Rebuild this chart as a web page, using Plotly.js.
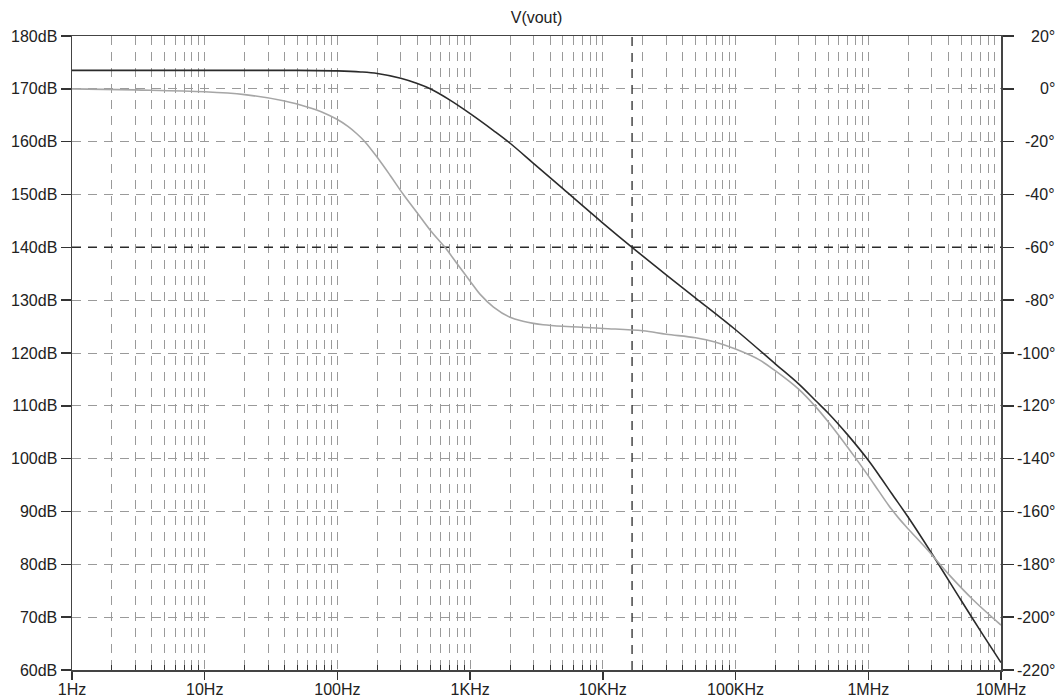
<!DOCTYPE html>
<html>
<head>
<meta charset="utf-8">
<script src="https://cdn.plot.ly/plotly-3.0.1.min.js"></script>
<style>html,body{margin:0;padding:0;background:#fff;}#chart{width:1061px;height:700px;}</style>
</head>
<body>
<div id="chart"></div>
<script>
// ---- data ----
const chartTitle = "V(vout)";
const freqMag = [1, 10, 50, 100, 150, 200, 300, 400, 500, 700, 1000, 1500, 2000, 3000, 5000, 10000, 16600, 30000, 50000, 100000, 200000, 300000, 400000, 500000, 700000, 1000000, 1250000, 1500000, 2000000, 3000000, 5000000, 7000000, 10000000];
const magDb   = [173.5, 173.5, 173.5, 173.4, 173.2, 172.9, 172.0, 171.0, 170.0, 167.9, 165.3, 162.1, 159.7, 155.9, 151.1, 144.6, 140.0, 134.8, 130.4, 124.4, 117.9, 114.1, 111.0, 108.6, 104.5, 99.7, 96.3, 93.4, 88.9, 82.1, 73.2, 67.4, 61.4];
const freqPhase = [1, 3, 10, 20, 40, 60, 80, 100, 120, 140, 161, 200, 250, 314, 400, 500, 646, 800, 1000, 1200, 1500, 2000, 2500, 3000, 3550, 5000, 10000, 20000, 30000, 50000, 70000, 100000, 150000, 200000, 300000, 400000, 500000, 600000, 800000, 1000000, 1200000, 1430000, 1700000, 2000000, 2800000, 4070000, 6100000, 10000000];
const phaseDeg  = [0, -0.4, -1.1, -2.2, -4.6, -7.0, -9.2, -11.6, -14.2, -17.0, -20.0, -26.0, -32.8, -40.0, -47.0, -53.5, -60.0, -66.3, -72.8, -78.0, -82.6, -86.5, -88.0, -88.8, -89.3, -89.9, -90.7, -91.6, -92.9, -94.2, -95.8, -98.5, -102.5, -106.8, -113.8, -120.3, -126.1, -131.2, -139.7, -146.5, -152.3, -157.8, -162.6, -166.6, -174.6, -184.0, -193.2, -203.0];
const freqTicks = [1, 10, 100, 1000, 10000, 100000, 1000000, 10000000];
const freqLabels = ["1Hz", "10Hz", "100Hz", "1KHz", "10KHz", "100KHz", "1MHz", "10MHz"];
const dbRange = [60, 180];
const degTicks = [20, 0, -20, -40, -60, -80, -100, -120, -140, -160, -180, -200, -220];
const cursorFreq = [16600];
const cursorDb = [140];

// ---- derived helpers ----
const minorTicks = [];
freqTicks.slice(0, -1).forEach(d => { for (let k = 2; k <= 9; k++) minorTicks.push(d * k); });
const degRange = [Math.min(...degTicks), Math.max(...degTicks)];
const FONT = "Liberation Sans, Arial, sans-serif";
const DASH = "9px,7px";

const traces = [
  { x: [cursorFreq[0], cursorFreq[0]], y: dbRange, mode: "lines", line: {color: "#2a2a2a", width: 1.3, dash: DASH}, hoverinfo: "skip", showlegend: false },
  { x: [freqTicks[0], freqTicks[freqTicks.length - 1]], y: [cursorDb[0], cursorDb[0]], mode: "lines", line: {color: "#2a2a2a", width: 1.5, dash: DASH}, hoverinfo: "skip", showlegend: false },
  { x: freqPhase, y: phaseDeg, yaxis: "y2", mode: "lines", line: {color: "#a6a6a6", width: 1.6, shape: "spline", smoothing: 1, simplify: false}, name: "phase", showlegend: false },
  { x: freqMag, y: magDb, mode: "lines", line: {color: "#2b2b2b", width: 1.6, shape: "spline", smoothing: 1, simplify: false}, name: "V(vout)", showlegend: false }
];

const annotations = degTicks.map(v => ({
  xref: "paper", x: 1, xshift: 55, xanchor: "right",
  yref: "y2", y: v, yanchor: "middle",
  text: v + "°", showarrow: false, borderpad: 0,
  font: {family: FONT, size: 16, color: "#222"}
}));

const layout = {
  width: 1061, height: 700,
  margin: {l: 72, r: 60, t: 36, b: 30, pad: 0},
  paper_bgcolor: "#fff", plot_bgcolor: "#fff",
  showlegend: false,
  title: {text: chartTitle, x: 0.5, xref: "paper", xanchor: "center", y: 1 - 17 / 700, yref: "container", yanchor: "middle",
          font: {family: FONT, size: 16, color: "#222"}},
  font: {family: FONT, size: 16, color: "#222"},
  xaxis: {
    type: "log", range: [Math.log10(freqTicks[0]), Math.log10(freqTicks[freqTicks.length - 1])],
    tickmode: "array", tickvals: freqTicks, ticktext: freqLabels,
    ticks: "outside", ticklen: 8, tickwidth: 1.5, tickcolor: "#333",
    showline: true, linecolor: "#444", linewidth: 1.5, mirror: true,
    showgrid: true, gridcolor: "#9a9a9a", gridwidth: 1, griddash: DASH,
    zeroline: false, tickfont: {family: FONT, size: 16, color: "#222"}, ticklabelstandoff: -4,
    minor: {tickmode: "array", tickvals: minorTicks, ticks: "inside", ticklen: 5, tickwidth: 1, tickcolor: "#333",
            showgrid: true, gridcolor: "#9a9a9a", gridwidth: 1, griddash: DASH}
  },
  yaxis: {
    range: dbRange, dtick: 10, tick0: 0, ticksuffix: "dB",
    ticks: "outside", ticklen: 10, tickwidth: 1.5, tickcolor: "#333",
    showline: true, linecolor: "#444", linewidth: 1.5,
    showgrid: true, gridcolor: "#9a9a9a", gridwidth: 1, griddash: DASH,
    zeroline: false, tickfont: {family: FONT, size: 16, color: "#222"}, ticklabelstandoff: 0
  },
  yaxis2: {
    overlaying: "y", side: "right", range: degRange,
    tickmode: "array", tickvals: degTicks, showticklabels: false,
    ticks: "outside", ticklen: 11, tickwidth: 1.5, tickcolor: "#333",
    showline: true, linecolor: "#444", linewidth: 1.5,
    showgrid: false, zeroline: false
  },
  annotations: annotations
};

Plotly.newPlot("chart", traces, layout, {displayModeBar: false, staticPlot: true});
</script>
</body>
</html>
